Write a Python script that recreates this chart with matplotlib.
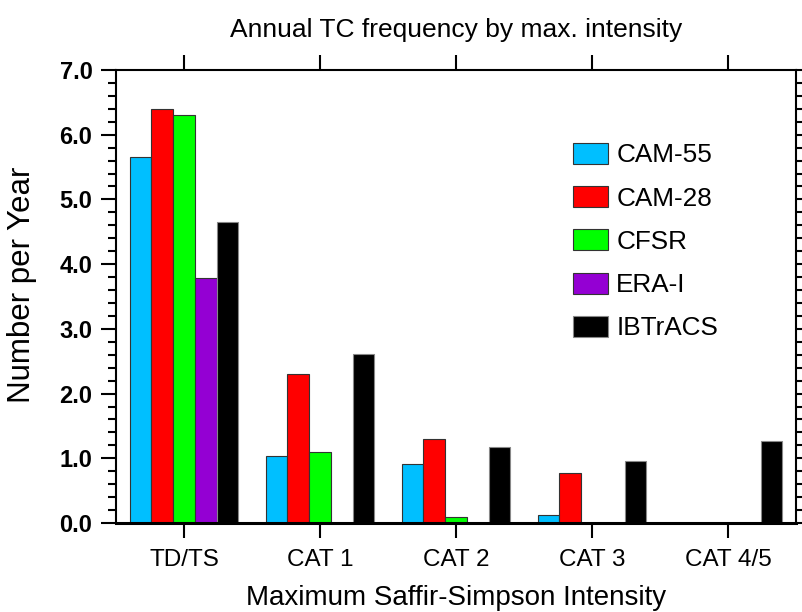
import numpy as np
import matplotlib
matplotlib.use("Agg")
import matplotlib.pyplot as plt
from matplotlib.ticker import MultipleLocator

plt.rcParams['font.family'] = ['Liberation Sans', 'DejaVu Sans']

categories = ['TD/TS', 'CAT 1', 'CAT 2', 'CAT 3', 'CAT 4/5']
datasets = ['CAM-55', 'CAM-28', 'CFSR', 'ERA-I', 'IBTrACS']
colors = ['#00BFFF', '#FF0000', '#00FF00', '#9400D3', '#000000']

cam55 = [5.66, 1.04, 0.91, 0.13, 0.0]
cam28 = [6.40, 2.30, 1.30, 0.78, 0.0]
cfsr = [6.31, 1.09, 0.09, 0.0, 0.0]
erai = [3.79, 0.0, 0.0, 0.0, 0.0]
ibtracs = [4.65, 2.61, 1.18, 0.96, 1.26]
series = [cam55, cam28, cfsr, erai, ibtracs]

fig = plt.figure(figsize=(8.02, 6.12), dpi=100)
ax = fig.add_axes([116 / 802, 1 - 523 / 612, 680 / 802, 453 / 612])

x = np.arange(len(categories))
width = 0.16
for i, (vals, name, c) in enumerate(zip(series, datasets, colors)):
    ec = '#888888' if c == '#000000' else '#333333'
    ax.bar(x + (i - 2) * width, vals, width, color=c, edgecolor=ec,
           linewidth=0.8, label=name)

ax.set_xlim(-0.5, 4.5)
ax.set_ylim(0, 7)
ax.set_xticks(x)
ax.set_xticklabels(categories, fontsize=17.5)
ax.yaxis.set_major_locator(MultipleLocator(1.0))
ax.yaxis.set_minor_locator(MultipleLocator(0.2))
ax.set_yticklabels([f'{v:.1f}' for v in ax.get_yticks()], fontsize=17,
                   fontweight='bold')

ax.tick_params(axis='both', which='major', direction='out', length=11,
               width=1.5, top=True, right=True, pad=6)
ax.tick_params(axis='x', which='major', pad=8)
ax.tick_params(axis='y', which='minor', direction='out', length=6,
               width=1.5, right=True)
ax.tick_params(axis='x', which='major', labeltop=False)
for s in ax.spines.values():
    s.set_linewidth(1.5)
ax.spines['bottom'].set_linewidth(2.2)

ax.set_title('Annual TC frequency by max. intensity', fontsize=19, pad=24)
ax.set_xlabel('Maximum Saffir-Simpson Intensity', fontsize=20, labelpad=10)
ax.set_ylabel('Number per Year', fontsize=22.5)
ax.yaxis.set_label_coords(-0.116, 0.525)

ax.legend(loc='upper left', bbox_to_anchor=(0.657, 0.862), frameon=False,
          fontsize=18.8, handlelength=1.35, handleheight=0.85,
          labelspacing=0.72, handletextpad=0.3, borderaxespad=0)

fig.savefig('out.png', dpi=100)
